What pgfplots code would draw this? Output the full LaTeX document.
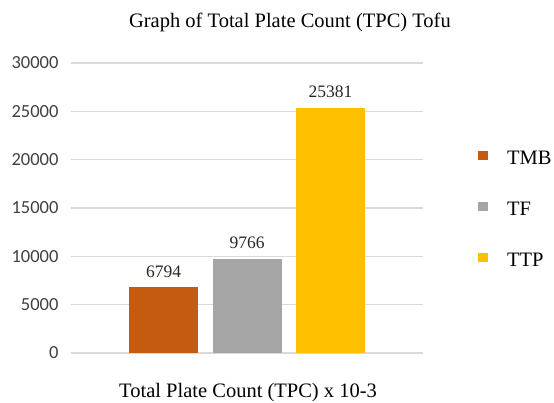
\documentclass[border=0pt]{standalone}
\usepackage{pgfplots}
\pgfplotsset{compat=1.18}
\usepackage{fontspec}
\setmainfont{Liberation Serif}
\newfontfamily\carlito{Carlito}
\definecolor{cTMB}{HTML}{C55A11}
\definecolor{cTF}{HTML}{A5A5A5}
\definecolor{cTTP}{HTML}{FFC000}
\definecolor{gridc}{HTML}{D9D9D9}
\pgfplotsset{sq/.style={legend image code/.code={\fill[##1] (0bp,-1bp) rectangle (10bp,8bp);}}}
\begin{document}
\begin{tikzpicture}
\useasboundingbox (0,0) rectangle (554bp,403bp);
\begin{axis}[
 at={(71bp,50bp)}, anchor=south west,
 scale only axis, width=352bp, height=290bp,
 xmin=-0.108, xmax=4.108, ymin=0, ymax=30000,
 ytick={0,5000,...,30000},
 xtick=\empty,
 scaled y ticks=false,
 /pgf/number format/1000 sep={},
 /pgf/number format/assume math mode=true,
 axis line style={draw=none},
 major tick length=0pt,
 ymajorgrids, grid style={gridc, line width=1.2bp},
 yticklabel style={font=\carlito\fontsize{18.5bp}{20bp}\selectfont, text=black!75, xshift=-9bp},
 ybar, bar width=69bp, bar shift=0pt,
 nodes near coords,
 every node near coord/.append style={font=\fontsize{17.5bp}{20bp}\selectfont, anchor=center, yshift=16bp, text=black!85},
 title={Graph of Total Plate Count (TPC) Tofu},
 title style={font=\fontsize{20.5bp}{24bp}\selectfont, at={(0.622,1)}, anchor=center, yshift=35bp},
 xlabel={Total Plate Count (TPC) x 10-3},
 xlabel style={font=\fontsize{20.5bp}{24bp}\selectfont, at={(0.503,0)}, anchor=center, yshift=-40bp},
 legend style={draw=none, fill=none, at={(1.156,0.493)}, anchor=west, inner sep=0pt,
   font=\fontsize{20.5bp}{24bp}\selectfont, row sep=33bp, column sep=19bp,
   nodes={inner sep=0pt, text height=14bp, text depth=4bp}},
 legend cell align=left,
]
\addplot[fill=cTMB, draw=none, sq] coordinates {(1,6794)};
\addlegendentry{TMB}
\addplot[fill=cTF, draw=none, sq] coordinates {(2,9766)};
\addlegendentry{TF}
\addplot[fill=cTTP, draw=none, sq] coordinates {(3,25381)};
\addlegendentry{TTP}
\end{axis}
\end{tikzpicture}
\end{document}
